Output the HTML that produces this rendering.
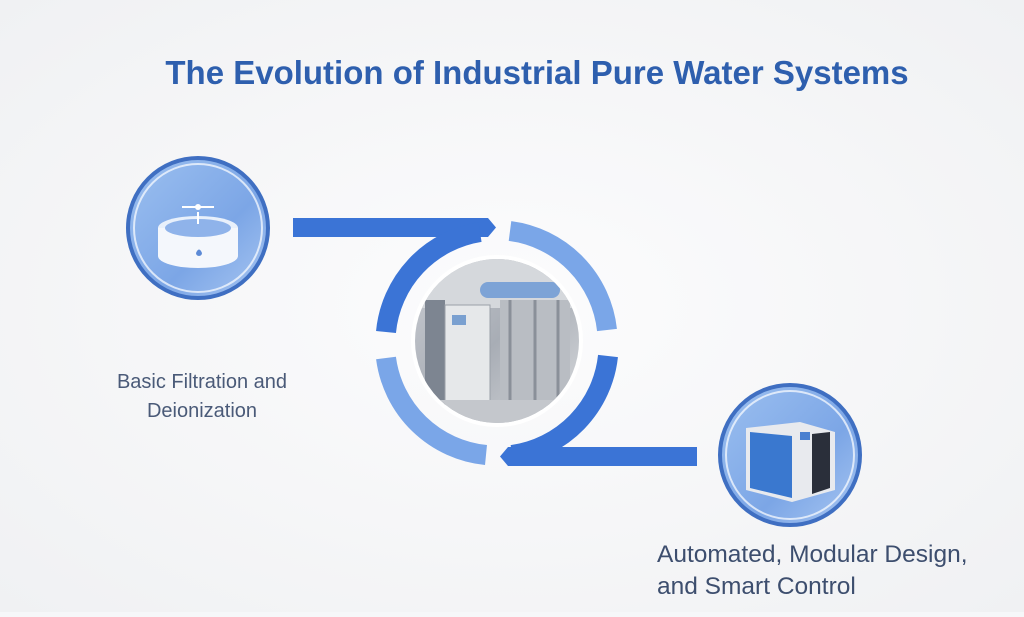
<!DOCTYPE html>
<html><head><meta charset="utf-8"><style>
html,body{margin:0;padding:0;background:#f6f7f9;}
body{width:1024px;height:612px;overflow:hidden;position:relative;font-family:"Liberation Sans",sans-serif;}
</style></head><body>
<svg width="1024" height="612" viewBox="0 0 1024 612" xmlns="http://www.w3.org/2000/svg">
<defs>
<radialGradient id="bg" cx="50%" cy="50%" r="70%"><stop offset="0" stop-color="#fcfcfd"/><stop offset="1" stop-color="#f0f1f3"/></radialGradient>
<linearGradient id="cf" x1="0" y1="0" x2="1" y2="1"><stop offset="0" stop-color="#9cc0f0"/><stop offset="0.6" stop-color="#7ca6e6"/><stop offset="1" stop-color="#a9c7f2"/></linearGradient>
<linearGradient id="ph" x1="0" y1="0" x2="1" y2="1"><stop offset="0" stop-color="#c9ccd2"/><stop offset="0.5" stop-color="#a8adb5"/><stop offset="1" stop-color="#d8dadd"/></linearGradient>
</defs>
<rect width="1024" height="612" fill="url(#bg)"/>
<text x="537" y="84" text-anchor="middle" font-size="33" font-weight="bold" fill="#2e5fae">The Evolution of Industrial Pure Water Systems</text>

<circle cx="198" cy="228" r="70" fill="url(#cf)" stroke="#3f6fc2" stroke-width="4"/>
<circle cx="198" cy="228" r="64" fill="none" stroke="#ffffff" stroke-width="2" opacity="0.7"/>
<ellipse cx="198" cy="228" rx="40" ry="12" fill="#e8f0fb"/>
<path d="M158 228 v28 a40 12 0 0 0 80 0 v-28" fill="#f4f7fc"/>
<ellipse cx="198" cy="228" rx="33" ry="9" fill="#8fb3ea"/>
<path d="M196 253 q3 -7 6 0 a3 3 0 0 1 -6 0z" fill="#5c8ad6"/>
<line x1="198" y1="212" x2="198" y2="224" stroke="#fff" stroke-width="2"/>
<line x1="182" y1="207" x2="214" y2="207" stroke="#fff" stroke-width="2"/>
<circle cx="198" cy="207" r="3" fill="#fff"/>

<path d="M293 218 H488 L496 227.5 L488 237 H293 Z" fill="#3b74d6"/>
<g fill="none" stroke-width="20">
<path d="M510 231 A112 112 0 0 1 607 330" stroke="#7aa6e8"/>
<path d="M608 356 A112 112 0 0 1 512 455" stroke="#3b74d6"/>
<path d="M486 455 A112 112 0 0 1 386 358" stroke="#7aa6e8"/>
<path d="M386 332 A112 112 0 0 1 480 232" stroke="#3b74d6"/>
</g>
<path d="M697 447 V466 H508 L500 456.5 L508 447 Z" fill="#3b74d6"/>

<circle cx="497" cy="341" r="86" fill="#ffffff"/>
<circle cx="497" cy="341" r="82" fill="url(#ph)"/>
<clipPath id="pc"><circle cx="497" cy="341" r="82"/></clipPath>
<g clip-path="url(#pc)">
<rect x="415" y="258" width="170" height="50" fill="#d5d8dc"/>
<rect x="480" y="282" width="80" height="16" rx="8" fill="#7da3d6"/>
<rect x="425" y="300" width="20" height="110" fill="#7d8591"/>
<rect x="445" y="305" width="45" height="105" fill="#e6e8ea" stroke="#9aa0a8"/>
<rect x="452" y="315" width="14" height="10" fill="#7aa0d0"/>
<rect x="500" y="300" width="70" height="110" fill="#b9bdc3"/>
<line x1="510" y1="300" x2="510" y2="410" stroke="#8a9099" stroke-width="3"/>
<line x1="535" y1="300" x2="535" y2="410" stroke="#8a9099" stroke-width="3"/>
<line x1="558" y1="300" x2="558" y2="410" stroke="#8a9099" stroke-width="3"/>
<rect x="415" y="400" width="170" height="30" fill="#c4c7cc"/>
</g>

<circle cx="790" cy="455" r="70" fill="url(#cf)" stroke="#3f6fc2" stroke-width="4"/>
<circle cx="790" cy="455" r="64" fill="none" stroke="#ffffff" stroke-width="2" opacity="0.7"/>
<path d="M746 428 L800 422 L835 432 L835 490 L792 502 L746 490 Z" fill="#e8eaee"/>
<path d="M750 432 L792 436 L792 498 L750 488 Z" fill="#3a78cf"/>
<rect x="800" y="432" width="10" height="8" fill="#4a80d0"/>
<path d="M812 434 L830 432 L830 488 L812 494 Z" fill="#2a2f3a"/>

<text font-size="20" fill="#4a5a78" text-anchor="middle"><tspan x="202" y="388">Basic Filtration and</tspan><tspan x="202" y="417">Deionization</tspan></text>
<text font-size="24.5" fill="#3d4e6e"><tspan x="657" y="562">Automated, Modular Design,</tspan><tspan x="657" y="594">and Smart Control</tspan></text>
</svg>
</body></html>
